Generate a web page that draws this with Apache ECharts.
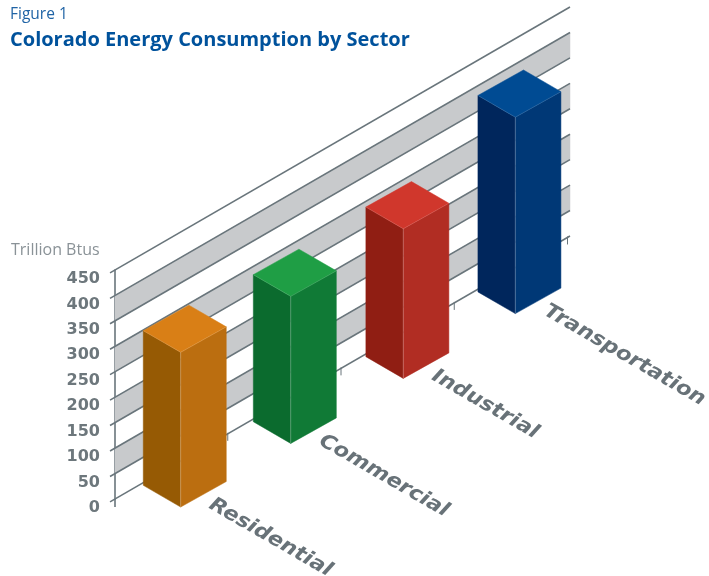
<!DOCTYPE html>
<html>
<head>
<meta charset="utf-8">
<style>html,body{margin:0;padding:0;background:#fff}#c{width:709px;height:576px}</style>
<script src="https://cdn.jsdelivr.net/npm/echarts@6/dist/echarts.min.js"></script>
</head>
<body>
<div id="c"></div>
<script>
const categories = ['Residential', 'Commercial', 'Industrial', 'Transportation'];
const consumption = [304, 289, 294, 386];
const yTicks = [0, 50, 100, 150, 200, 250, 300, 350, 400, 450];
const wallBands = [[50, 100], [150, 200], [250, 300], [350, 400]];
const palette = [
  { left: '#965a04', right: '#bb6e10', top: '#d97f16' },
  { left: '#0b6b2e', right: '#107a36', top: '#1f9e45' },
  { left: '#901e13', right: '#b12d23', top: '#d0372c' },
  { left: '#00265c', right: '#003876', top: '#004b93' }
];

const GRID = { left: 115, top: 270, width: 453, height: 229 };
const SLOPE = 0.578;
const GREY = '#69757b';
const shear = x => (x - GRID.left) * SLOPE;

function polygon(points, fill) {
  return { type: 'polygon', shape: { points }, style: { fill, stroke: fill, lineWidth: 0.5 }, silent: true };
}
function line(a, b, stroke, lineWidth) {
  return { type: 'line', shape: { x1: a[0], y1: a[1], x2: b[0], y2: b[1] }, style: { stroke, lineWidth }, silent: true };
}

// back wall: grey bands, sloped grid lines and ticks
function renderBand(params, api) {
  const y0 = api.coord([0, api.value(0)])[1];
  const y1 = api.coord([0, api.value(1)])[1];
  const xa = GRID.left, xb = GRID.left + GRID.width + 2;
  return polygon([[xa, y0], [xb, y0 - shear(xb)], [xb, y1 - shear(xb)], [xa, y1]], '#c8cacc');
}
function renderGridLine(params, api) {
  const y = api.coord([0, api.value(0)])[1];
  const xa = GRID.left - 5, xb = GRID.left + GRID.width + 2;
  return line([xa, y - shear(xa)], [xb, y - shear(xb)], GREY, 1.6);
}
function renderBoundaryTick(params, api) {
  const c = api.coord([api.value(0), 0]);
  const x = c[0] + api.size([1, 0])[0] / 2 - 0.5;
  const y = c[1] - shear(x);
  return line([x, y - 1], [x, y + 7], GREY, 1);
}

// boxes
const LEFT_EDGE = [-37.4, -21.7], RIGHT_EDGE = [45.6, -25.5];
const BAR_PITCH = 0.985, BAR_SHIFT = 6.5, BASE_DROP = 46;
const BAR_NUDGE = [0, -1.5, -0.5, 0];
const MID_X = GRID.left + GRID.width / 2;
function renderBox(params, api) {
  const i = api.value(0);
  const base = api.coord([i, 0]);
  const head = api.coord([i, api.value(1)]);
  const fx = MID_X + (base[0] - MID_X) * BAR_PITCH + BAR_SHIFT + BAR_NUDGE[i];
  const by = base[1] - shear(fx) + BASE_DROP;
  const ty = by - (base[1] - head[1]);
  const F = [fx, by], T = [fx, ty];
  const add = (p, d) => [p[0] + d[0], p[1] + d[1]];
  const BL = add(F, LEFT_EDGE), BR = add(F, RIGHT_EDGE);
  const TL = add(T, LEFT_EDGE), TR = add(T, RIGHT_EDGE), TB = add(TL, RIGHT_EDGE);
  const col = palette[i];
  return {
    type: 'group',
    children: [
      polygon([F, BL, TL, T], col.left),
      polygon([F, BR, TR, T], col.right),
      polygon([T, TL, TB, TR], col.top),
      line(F, T, 'rgba(255,255,255,0.25)', 1),
      line(T, TL, 'rgba(255,255,255,0.15)', 0.8),
      line(T, TR, 'rgba(255,255,255,0.15)', 0.8),
      {
        type: 'text',
        x: fx + 30, y: by - 4,
        rotation: -Math.PI / 6,
        scaleX: 1.1,
        silent: true,
        style: {
          text: categories[i],
          fill: '#687278',
          font: 'italic bold 20px "DejaVu Sans"',
          align: 'left',
          verticalAlign: 'middle'
        }
      }
    ]
  };
}

const chart = echarts.init(document.getElementById('c'), null, { renderer: 'canvas' });
chart.setOption({
  animation: false,
  backgroundColor: '#fff',
  title: [
    { text: 'Figure 1', left: 10, top: 7, padding: 0, textStyle: { fontFamily: 'Open Sans', fontWeight: 'normal', fontSize: 15.5, color: '#1f63a5' } },
    { text: 'Colorado Energy Consumption by Sector', left: 10, top: 30, padding: 0, textStyle: { fontFamily: 'Open Sans', fontWeight: 'bold', fontSize: 20, color: '#00529c' } },
    { text: 'Trillion Btus', left: 11, top: 242, padding: 0, textStyle: { fontFamily: 'Open Sans', fontWeight: 'normal', fontSize: 16, color: '#8a9297' } }
  ],
  grid: Object.assign({}, GRID, { containLabel: false }),
  xAxis: { type: 'category', data: categories, show: false, boundaryGap: true },
  yAxis: {
    type: 'value', min: 0, max: 450, interval: 50,
    axisLine: { show: true, lineStyle: { color: GREY, width: 1.6 } },
    axisTick: { show: false },
    splitLine: { show: false },
    axisLabel: {
      margin: 15,
      verticalAlign: 'top',
      lineHeight: 18,
      fontFamily: 'DejaVu Sans', fontWeight: 'bold', fontSize: 16, color: '#6d777c'
    }
  },
  series: [
    { type: 'custom', coordinateSystem: 'cartesian2d', renderItem: renderBand, data: wallBands, encode: { y: [0, 1] }, silent: true, z: 1 },
    { type: 'custom', coordinateSystem: 'cartesian2d', renderItem: renderGridLine, data: yTicks.map(v => [v]), encode: { y: 0 }, silent: true, z: 2 },
    { type: 'custom', coordinateSystem: 'cartesian2d', renderItem: renderBoundaryTick, data: categories.map((c, i) => [i]), encode: { x: 0 }, silent: true, z: 2 },
    {
      type: 'custom', coordinateSystem: 'cartesian2d', renderItem: (p, api) => line([GRID.left, GRID.top + GRID.height], [GRID.left, GRID.top + GRID.height + 8], GREY, 1.6),
      data: [[0]], encode: { y: 0 }, silent: true, z: 2
    },
    { type: 'custom', coordinateSystem: 'cartesian2d', renderItem: renderBox, data: consumption.map((v, i) => [i, v]), encode: { x: 0, y: 1 }, silent: true, z: 3 }
  ]
});
</script>
</body>
</html>
